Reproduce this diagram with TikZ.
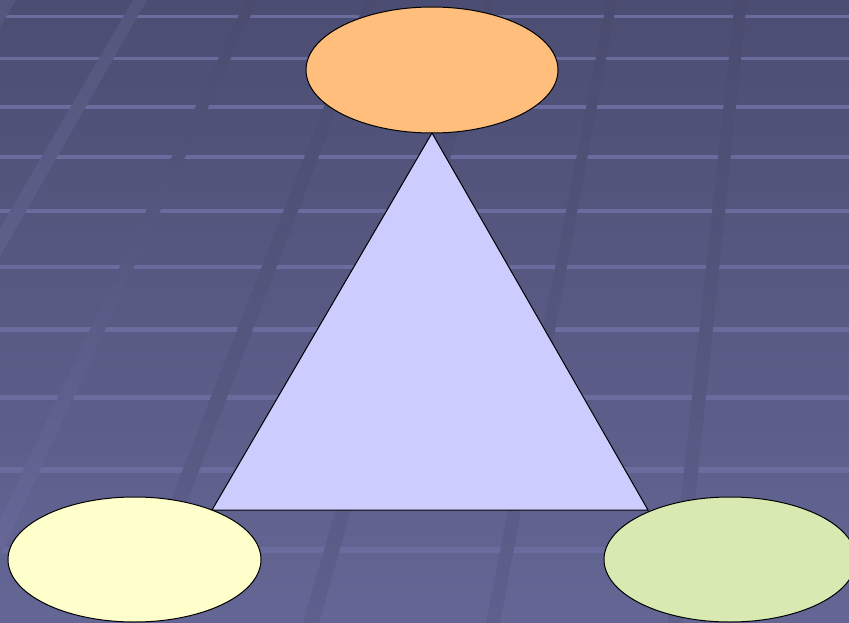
\documentclass[tikz,border=0pt]{standalone}
\usetikzlibrary{shapes.geometric}
\definecolor{bgtop}{HTML}{4C4D72}
\definecolor{bgbot}{HTML}{646695}
\definecolor{hlinecol}{HTML}{6A6C9E}
\definecolor{dstripeT}{HTML}{4A4B6F}
\definecolor{dstripeB}{HTML}{5E5F8C}
\definecolor{lstripeT}{HTML}{55567D}
\definecolor{lstripeB}{HTML}{6A6B9C}
\definecolor{triFill}{HTML}{CCCCFF}
\definecolor{topFill}{HTML}{FFBE7B}
\definecolor{leftFill}{HTML}{FFFFCC}
\definecolor{rightFill}{HTML}{D8E9B2}
\newcommand\bgstripe[6]{\shade[top color=#5,bottom color=#6] ({#1-#3/2},0) -- ({#1+#3/2},0) -- ({#2+#4/2},623) -- ({#2-#4/2},623) -- cycle;}
\tikzset{
  ell/.style={ellipse, draw=black, line width=1pt, inner sep=0pt, outer sep=0pt},
  tri/.style={draw=black, line width=1pt, fill=triFill, line join=miter},
  hband/.style={fill=hlinecol}
}
\begin{document}
\begin{tikzpicture}[x=1pt,y=-1pt]
\useasboundingbox (0,0) rectangle (849,623);
\clip (0,0) rectangle (849,623);
% background gradient
\shade[top color=bgtop,bottom color=bgbot] (0,0) rectangle (849,623);
% horizontal bands
\foreach \yy/\hh in {17/3,59/3,107/3.5,157/4,211/4,267/4.5,329/5,397/5,470/6,550/6}
  {\fill[hband] (0,{\yy-\hh/2}) rectangle (849,{\yy+\hh/2});}
% perspective stripes
\bgstripe{8}{-366}{16}{24}{lstripeT}{lstripeB}
\bgstripe{140}{-220}{14}{20}{lstripeT}{lstripeB}
\bgstripe{252}{-40}{12}{18}{dstripeT}{lstripeB}
\bgstripe{372}{132}{13}{18}{dstripeT}{dstripeB}
\bgstripe{489}{311}{12}{16}{dstripeT}{dstripeB}
\bgstripe{612}{493}{10}{14}{dstripeT}{dstripeB}
\bgstripe{741}{675}{12}{15}{dstripeT}{dstripeB}
% nodes
\node[ell, fill=topFill, minimum width=252pt, minimum height=126pt] (top) at (432,70) {};
\coordinate (apex) at (top.south);
\coordinate (bl) at (212,510);
\coordinate (br) at (648,510);
\draw[tri] (apex) -- (bl) -- (br) -- cycle;
\node[ell, fill=leftFill, minimum width=253pt, minimum height=125pt] (left) at (134.5,559.5) {};
\node[ell, fill=rightFill, minimum width=252pt, minimum height=125pt] (right) at (730,559.5) {};
\end{tikzpicture}
\end{document}
